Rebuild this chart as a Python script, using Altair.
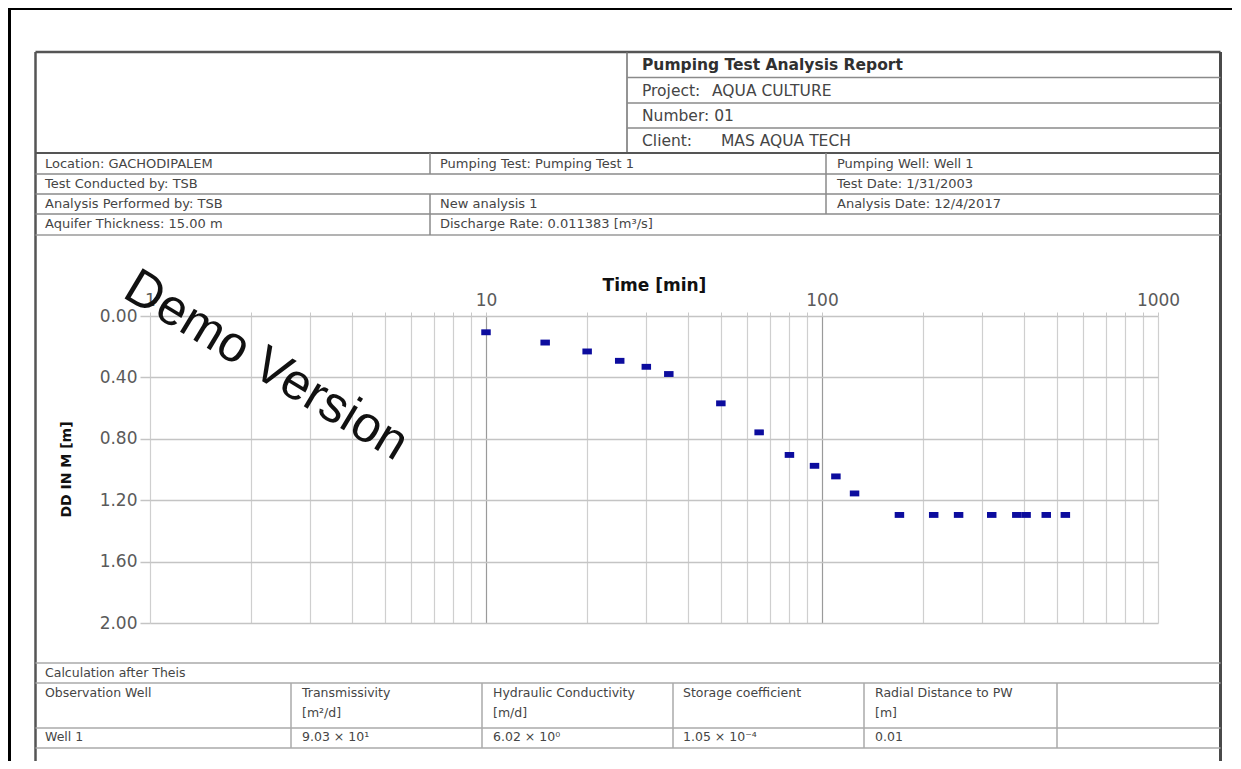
import altair as alt
import pandas as pd

# ---------------- data ----------------
time_min = [10, 15, 20, 25, 30, 35, 50, 65, 80, 95, 110, 125,
            170, 215, 255, 320, 380, 405, 465, 530]
drawdown_m = [0.106, 0.173, 0.231, 0.292, 0.331, 0.378, 0.569, 0.758, 0.905, 0.976, 1.045, 1.156,
              1.296, 1.296, 1.296, 1.296, 1.296, 1.296, 1.296, 1.296]

x_grid_values = [1, 2, 3, 4, 5, 6, 7, 8, 9,
                 10, 20, 30, 40, 50, 60, 70, 80, 90,
                 100, 200, 300, 400, 500, 600, 700, 800, 900, 1000]
x_label_values = [1, 10, 100, 1000]
y_tick_values = [0.0, 0.4, 0.8, 1.2, 1.6, 2.0]

x_title = "Time [min]"
y_title = "DD IN M [m]"
watermark = "Demo Version"

report_title = "Pumping Test Analysis Report"
report_lines = [("Project:", "AQUA CULTURE"), ("Number: 01", ""), ("Client:", "MAS AQUA TECH")]

info_col1 = ["Location: GACHODIPALEM", "Test Conducted by: TSB",
             "Analysis Performed by: TSB", "Aquifer Thickness: 15.00 m"]
info_col2 = ["Pumping Test: Pumping Test 1", "", "New analysis 1",
             "Discharge Rate: 0.011383 [m\u00b3/s]"]
info_col3 = ["Pumping Well: Well 1", "Test Date: 1/31/2003", "Analysis Date: 12/4/2017", ""]

calc_title = "Calculation after Theis"
result_headers = ["Observation Well", "Transmissivity", "Hydraulic Conductivity",
                  "Storage coefficient", "Radial Distance to PW"]
result_units = ["", "[m\u00b2/d]", "[m/d]", "", "[m]"]
result_values = ["Well 1", "9.03 \u00d7 10\u00b9", "6.02 \u00d7 10\u2070",
                 "1.05 \u00d7 10\u207b\u2074", "0.01"]

# ---------------- layout helpers (page coordinates -> plot coordinates) ----------------
OX, OY = 150, 316          # page position of the plot area's top-left corner
PW, PH = 1008, 307         # plot area size
PAGE_BOTTOM = 761          # last page row covered by the svg

def px(x):
    return x - OX

def py(y):
    return y - OY

one = pd.DataFrame({"k": [0]})
layers = []

def hline(y, x1, x2, color="#8a8a8a", w=1.5):
    layers.append(alt.Chart(one).mark_rule(color=color, strokeWidth=w).encode(
        x=alt.value(px(x1)), x2=alt.value(px(x2)), y=alt.value(py(y))))

def vline(x, y1, y2, color="#8a8a8a", w=1.5):
    layers.append(alt.Chart(one).mark_rule(color=color, strokeWidth=w).encode(
        x=alt.value(px(x)), y=alt.value(py(y1)), y2=alt.value(py(y2))))

def text(s, x, y, size=12, bold=False, color="#3a3a3a", font="DejaVu Sans"):
    if not s:
        return
    layers.append(alt.Chart(one).mark_text(
        text=s, align="left", baseline="middle", font=font, fontSize=size,
        fontWeight="bold" if bold else "normal", color=color).encode(
        x=alt.value(px(x)), y=alt.value(py(y))))

# outer black frame
hline(8.9, 8, 1232, color="#000000", w=2.2)
vline(9.5, 8, 775, color="#000000", w=3)

# inner report frame
FL, FR, FT, FB = 35.5, 1220.5, 52, 775
hline(FT, FL, FR, color="#555555", w=2.5)
vline(FL, FT, FB, color="#555555", w=2.5)
vline(FR, FT, FB, color="#4a4a4a", w=3)

# top-right report block
vline(627, FT, 153, color="#707070", w=1.5)
for yy in [77.5, 103, 128]:
    hline(yy, 627, FR, color="#8a8a8a", w=1.5)
hline(153, FL, FR, color="#555555", w=2.2)

text(report_title, 642, 65, size=15.5, bold=True, color="#303030")
rep_y = [90.5, 115.5, 141]
rep_x2 = [712, 0, 721]
for (a, b), yy, xx in zip(report_lines, rep_y, rep_x2):
    text(a, 642, yy, size=15.5, color="#454545")
    if b:
        text(b, xx, yy, size=15.5, color="#454545")

# info rows
for yy in [174, 194, 214]:
    hline(yy, FL, FR, color="#8a8a8a", w=1.5)
hline(235, FL, FR, color="#9a9a9a", w=1.5)
vline(430, 153, 174, color="#8a8a8a", w=1.5)
vline(430, 194, 235, color="#8a8a8a", w=1.5)
vline(826, 153, 214, color="#8a8a8a", w=1.5)

row_y = [164, 184, 204, 224]
for s1, s2, s3, yy in zip(info_col1, info_col2, info_col3, row_y):
    text(s1, 45, yy, size=13, color="#454545")
    text(s2, 440, yy, size=13, color="#454545")
    text(s3, 837, yy, size=13, color="#454545")

# results table
for yy in [663, 683, 728, 748]:
    hline(yy, FL, FR, color="#aaaaaa", w=1.5)
for xx in [291, 482, 673, 864, 1057]:
    vline(xx, 683, 748, color="#aaaaaa", w=1.5)

col_x = [45, 302, 493, 683, 875]
text(calc_title, 45, 673, size=12.5, color="#454545")
for s, xx in zip(result_headers, col_x):
    text(s, xx, 693, size=12.5, color="#454545")
for s, xx in zip(result_units, col_x):
    text(s, xx, 713, size=12.5, color="#454545")
for s, xx in zip(result_values, col_x):
    text(s, xx, 737, size=12.5, color="#454545")

# ---------------- the drawdown plot ----------------
pts = pd.DataFrame({"t": time_min, "dd": drawdown_m})
label_test = " || ".join(f"datum.value == {v}" for v in x_label_values)

x_axis = alt.Axis(
    orient="top", values=x_grid_values,
    labelExpr=f"({label_test}) ? format(datum.value, 'd') : ''",
    labelFont="DejaVu Sans", labelFontSize=17, labelColor="#5a5a5a",
    labelFlush=False, labelOverlap=False, labelPadding=3,
    ticks=True, tickSize=4, tickColor="#c8c8c8", tickWidth=1,
    domain=False,
    grid=True, gridWidth=1.2,
    gridColor={"condition": {"test": "datum.value == 10 || datum.value == 100", "value": "#9a9a9a"},
               "value": "#cfcfcf"},
    title=x_title, titleFont="DejaVu Sans", titleFontSize=17, titleFontWeight="bold",
    titleColor="#111111", titleX=654 - OX, titleY=285 - OY,
    titleAlign="center", titleBaseline="middle",
)
y_axis = alt.Axis(
    orient="left", values=y_tick_values, format=".2f",
    labelFont="DejaVu Sans", labelFontSize=17, labelColor="#5a5a5a", labelPadding=3,
    ticks=True, tickSize=10, tickColor="#c4c4c4", tickWidth=1.5,
    domain=False,
    grid=True, gridColor="#c4c4c4", gridWidth=1.5,
    title=y_title, titleFont="DejaVu Sans", titleFontSize=14, titleFontWeight="bold",
    titleColor="#111111", titleX=66 - OX, titleY=469 - OY, titleAngle=270,
    titleAlign="center", titleBaseline="middle",
)

points = alt.Chart(pts).mark_point(
    shape="M-1,-0.62L1,-0.62L1,0.62L-1,0.62Z", filled=True, size=90,
    color="#0c0c9e", opacity=1,
).encode(
    x=alt.X("t:Q", scale=alt.Scale(type="log", domain=[1, 1000], nice=False), axis=x_axis),
    y=alt.Y("dd:Q", scale=alt.Scale(domain=[0, 2], reverse=True, nice=False, zero=False), axis=y_axis),
)
layers.append(points)

# watermark
layers.append(alt.Chart(one).mark_text(
    text=watermark, align="center", baseline="middle", font="Liberation Sans",
    fontSize=51, angle=31, color="#111111").encode(
    x=alt.value(px(266)), y=alt.value(py(366))))

chart = alt.layer(*layers).properties(
    width=PW, height=PH,
    padding={"left": OX - 8, "top": OY - 8, "right": 1233 - (OX + PW),
             "bottom": PAGE_BOTTOM - (OY + PH)},
    autosize=alt.AutoSizeParams(type="none"),
    background="#ffffff",
).configure_view(stroke=None)

chart.save("out.html", embed_options={"renderer": "svg", "actions": False})
